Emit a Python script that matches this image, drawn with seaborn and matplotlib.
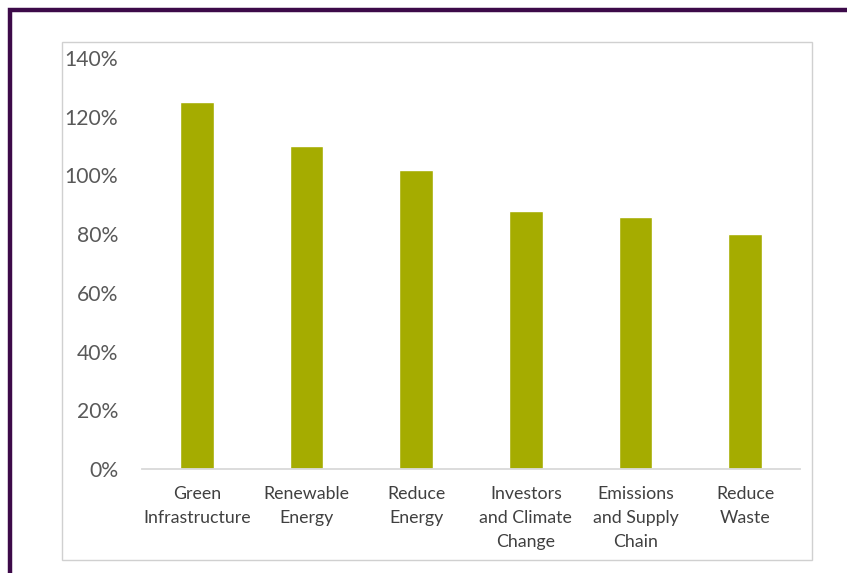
import matplotlib
matplotlib.use("Agg")
import matplotlib.pyplot as plt
from matplotlib.patches import Rectangle
from matplotlib.ticker import FuncFormatter
import pandas as pd
import seaborn as sns

# ── Data ──────────────────────────────────────────────────────────────────────
CATEGORIES = ["Green\nInfrastructure", "Renewable\nEnergy", "Reduce\nEnergy",
              "Investors\nand Climate\nChange", "Emissions\nand Supply\nChain",
              "Reduce\nWaste"]
VALUES = [125, 110, 102, 88, 86, 80]          # percent
Y_TICKS = [0, 20, 40, 60, 80, 100, 120, 140]

BAR_COLOR = "#a5ac00"
FRAME_COLOR = "#3c0a49"

sns.set_theme(style="white")
plt.rcParams["font.family"] = ["Lato", "DejaVu Sans"]

W, H = 847, 573
fig = plt.figure(figsize=(W / 100, H / 100), dpi=100)

# outer purple frame (runs off right/bottom) and inner chart box
fig.patches.append(Rectangle((10 / W, -0.05), 1.1, (H - 10) / H + 0.05,
                             transform=fig.transFigure, fill=False,
                             edgecolor=FRAME_COLOR, lw=3.2, zorder=0))
fig.patches.append(Rectangle((62 / W, (H - 560) / H), 750 / W, 518 / H,
                             transform=fig.transFigure, fill=False,
                             edgecolor="#d0d0d0", lw=1.0, zorder=0))

ax = fig.add_axes([142 / W, (H - 469) / H, 658 / W, (469 - 58) / H])
ax.patch.set_alpha(0)

df = pd.DataFrame({"category": CATEGORIES, "value": VALUES})
sns.barplot(data=df, x="category", y="value", color=BAR_COLOR,
            width=0.31, saturation=1, ax=ax)

ax.set_ylim(0, 140)
ax.set_xlim(-0.5, len(CATEGORIES) - 0.5)
ax.set_yticks(Y_TICKS)
ax.yaxis.set_major_formatter(FuncFormatter(lambda v, _: f"{v:.0f}%"))
ax.set_xlabel("")
ax.set_ylabel("")

sns.despine(ax=ax, left=True, top=True, right=True)
ax.spines["bottom"].set_color("#d9d9d9")
ax.spines["bottom"].set_linewidth(1.3)

ax.tick_params(axis="y", length=0, pad=17, labelsize=15.2, labelcolor="#595959")
ax.tick_params(axis="x", length=0, pad=12, labelsize=12.8, labelcolor="#404040")
for lbl in ax.get_xticklabels():
    lbl.set_linespacing(1.62)

fig.savefig("out.png", dpi=100)
